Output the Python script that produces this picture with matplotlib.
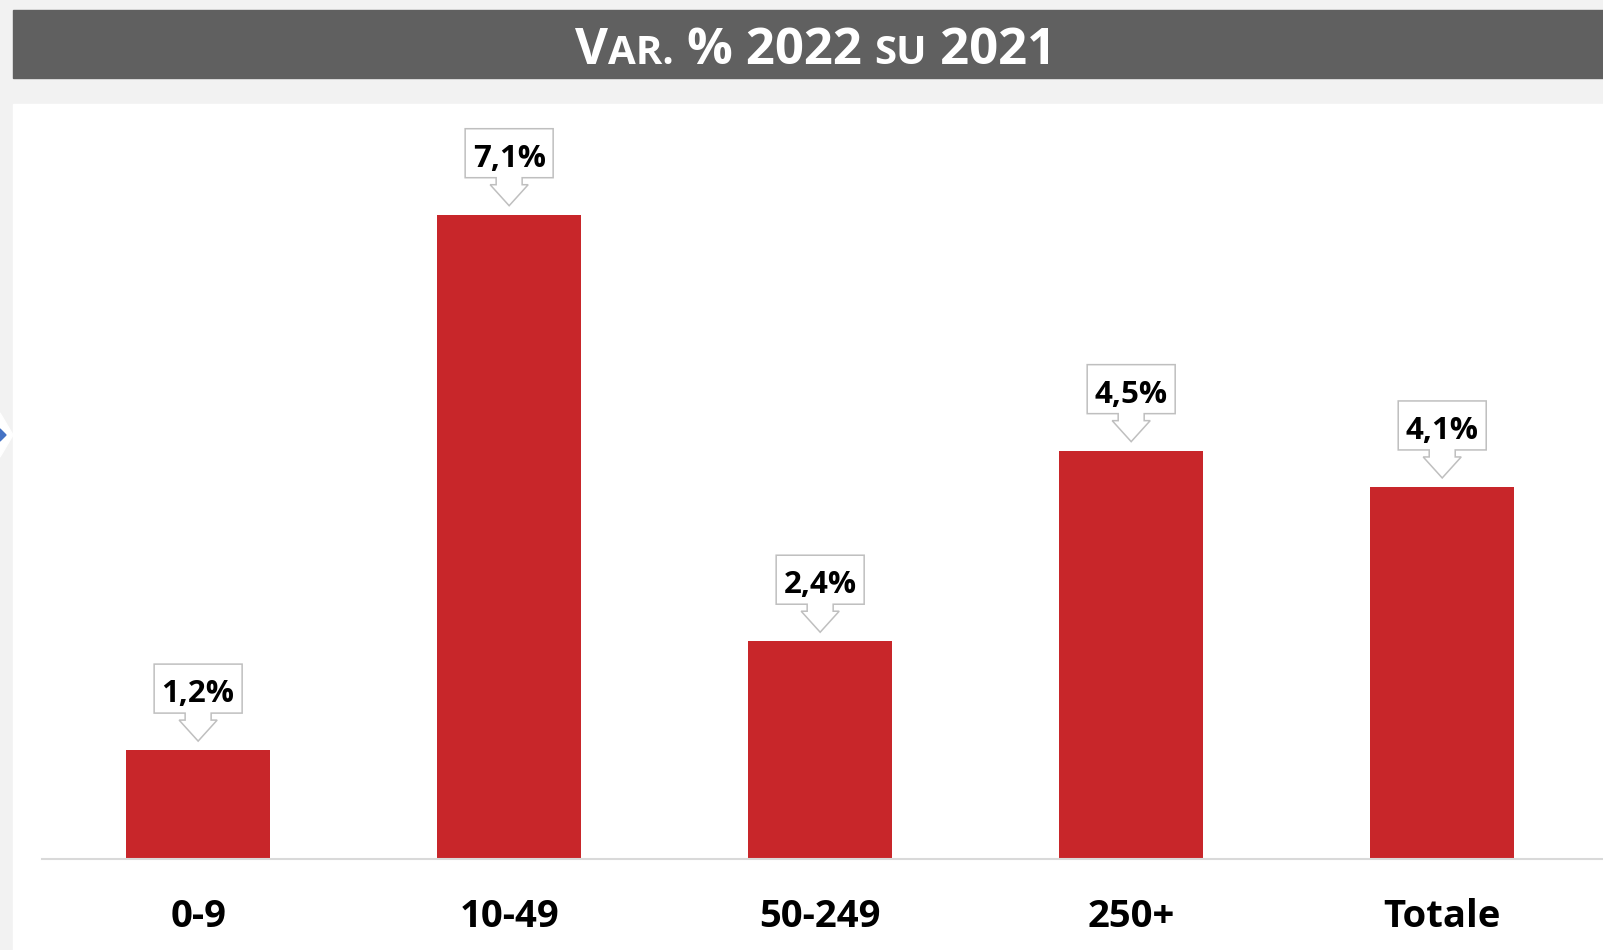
import matplotlib.pyplot as plt
from matplotlib.patches import Rectangle, Polygon
from matplotlib.transforms import IdentityTransform, ScaledTranslation

plt.rcParams['font.family'] = ['Open Sans', 'DejaVu Sans']

# data
categorie = ['0-9', '10-49', '50-249', '250+', 'Totale']
var_pct = [1.2, 7.1, 2.4, 4.5, 4.1]
etichette = ['1,2%', '7,1%', '2,4%', '4,5%', '4,1%']

W, H = 1603, 950
fig = plt.figure(figsize=(W / 100, H / 100), dpi=100, facecolor='#f2f2f2')

# title bar + white panel (behind the axes)
fig.patches.append(Rectangle((13 / W, 1 - 78 / H), 1590 / W, 68 / H,
                             transform=fig.transFigure, color='#606060', zorder=-2))
fig.patches.append(Rectangle((13 / W, 0), 1590 / W, 846 / H,
                             transform=fig.transFigure, color='white', zorder=-2))
# little marker on the left edge
fig.patches.append(Polygon([(-22 / W, 1 - 435 / H), (0, 1 - 413 / H), (13 / W, 1 - 435 / H),
                            (0, 1 - 457 / H)], closed=True, transform=fig.transFigure,
                           color='white', zorder=-1))
fig.patches.append(Polygon([(-6 / W, 1 - 435 / H), (0, 1 - 429 / H), (6 / W, 1 - 435 / H),
                            (0, 1 - 441 / H)], closed=True, transform=fig.transFigure,
                           color='#4472c4', zorder=-1))

# title in small caps, built from pieces
pezzi = [('V', 36.5), ('AR.', 29), (' % 2022 ', 36.5), ('SU', 29), (' 2021', 36.5)]
testi = [fig.text(0, 1 - 64 / H, t, fontsize=s, fontweight='bold', color='white',
                  va='baseline', ha='left') for t, s in pezzi]
fig.canvas.draw()
r = fig.canvas.get_renderer()
larg = [t.get_window_extent(r).width for t in testi]
x = 815.5 - sum(larg) / 2
for t, w in zip(testi, larg):
    t.set_x(x / W)
    x += w

ax = fig.add_axes([42 / W, 91 / H, 1561 / W, 755 / H])
ax.patch.set_visible(False)
pos = range(len(categorie))
ax.bar(pos, var_pct, width=0.463, color='#c8262a', zorder=2)
ax.set_xlim(-0.502, 4.517)
ax.set_ylim(0, 8.32)
for s in ['top', 'right', 'left']:
    ax.spines[s].set_visible(False)
ax.spines['bottom'].set_color('#d9d9d9')
ax.spines['bottom'].set_linewidth(1.5)
ax.set_yticks([])
ax.set_xticks(list(pos))
ax.set_xticklabels(categorie, fontsize=27.5, fontweight='bold')
ax.tick_params(axis='x', length=0, pad=28)

# callouts (offsets in pixels above bar top)
forma = [(-44, 86), (44, 86), (44, 37), (13, 37), (13, 30), (19, 30), (0, 9),
         (-19, 30), (-13, 30), (-13, 37), (-44, 37)]
for i, (v, lab) in enumerate(zip(var_pct, etichette)):
    tr = IdentityTransform() + ScaledTranslation(i, v, ax.transData)
    ax.add_patch(Polygon(forma, closed=True, transform=tr, facecolor='white',
                         edgecolor='#bfbfbf', lw=1.1, clip_on=False, zorder=3))
    ax.text(0, 48, lab, transform=tr, ha='center', va='baseline', fontsize=22.5,
            fontweight='bold', color='black', zorder=4)

fig.savefig('out.png', dpi=100, facecolor=fig.get_facecolor())
